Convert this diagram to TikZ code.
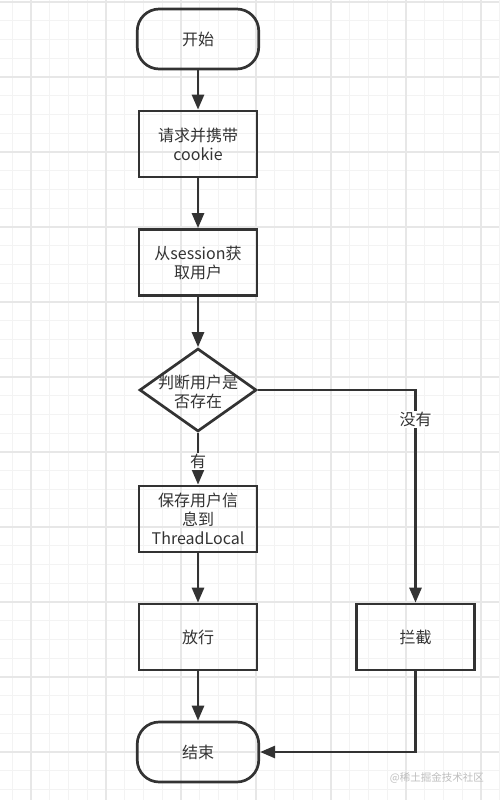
\documentclass[tikz,border=0pt]{standalone}
\usepackage{fontspec}
\setmainfont{Noto Sans CJK SC}
\usetikzlibrary{arrows.meta,shapes.geometric}
\definecolor{ink}{HTML}{333333}
\definecolor{gridminor}{RGB}{243,243,243}
\definecolor{gridmajor}{RGB}{231,231,231}
\definecolor{wm}{RGB}{190,190,190}
\begin{document}
\begin{tikzpicture}[x=1pt,y=-1pt,
  base/.style={draw=ink, line width=2.7pt, inner sep=0pt, align=center, text=ink, font=\fontsize{16}{19}\selectfont},
  stepbox/.style={base, rectangle, minimum width=118pt, minimum height=66pt},
  term/.style={base, rectangle, rounded corners=22pt, minimum width=121.5pt, minimum height=60pt},
  decide/.style={base, diamond, minimum width=117pt, minimum height=83pt},
  txt/.style={inner sep=0pt, align=center, text=ink, font=\fontsize{16}{19}\selectfont},
  lbl/.style={fill=white, inner sep=1pt, text=ink, font=\fontsize{16}{19}\selectfont},
  flow/.style={draw=ink, line width=2.7pt, -{Triangle[length=15pt,width=12pt]}},
  line/.style={draw=ink, line width=2.7pt}
]
\useasboundingbox (0,0) rectangle (499,800);
\fill[white] (0,0) rectangle (499,800);
% grid
\foreach \i in {0,...,26} {
  \draw[gridminor, line width=1pt] ({12.25+18.75*\i},0) -- ({12.25+18.75*\i},800);
}
\foreach \i in {0,...,43} {
  \draw[gridminor, line width=1pt] (0,{2+18.75*\i}) -- (499,{2+18.75*\i});
}
\foreach \i in {0,...,6} {
  \draw[gridmajor, line width=1.2pt] ({31+75*\i},0) -- ({31+75*\i},800);
}
\foreach \i in {0,...,10} {
  \draw[gridmajor, line width=1.2pt] (0,{2+75*\i}) -- (499,{2+75*\i});
}
% nodes
\node[term] (start) at (198,39) {开始};
\node[stepbox] (req) at (198,144) {请求并携带\\cookie};
\node[stepbox] (get) at (198,262.5) {从session获\\取用户};
\node[decide] (chk) at (198,390) {};
\node[txt] (chkt) at (198,392) {判断用户是\\否存在};
\node[stepbox] (save) at (198,519) {保存用户信\\息到\\ThreadLocal};
\node[stepbox] (pass) at (198,637) {放行};
\node[stepbox] (block) at (415.5,637) {拦截};
\node[term] (stop) at (198,752) {结束};
\node[inner sep=0pt, text=wm, font=\fontsize{10.5}{12}\selectfont, anchor=east] (mark) at (484,778) {@稀土掘金技术社区};
% connectors
\draw[flow] (start) -- (req);
\draw[flow] (req) -- (get);
\draw[flow] (get) -- (chk);
\draw[flow] (chk) -- node[lbl, pos=0.55] {有} (save);
\draw[flow] (save) -- (pass);
\draw[flow] (pass) -- (stop);
\draw[flow] (chk.east) -| node[lbl, pos=0.57] {没有} (block.north);
\draw[flow] (block.south) |- (stop.east);
\end{tikzpicture}
\end{document}
